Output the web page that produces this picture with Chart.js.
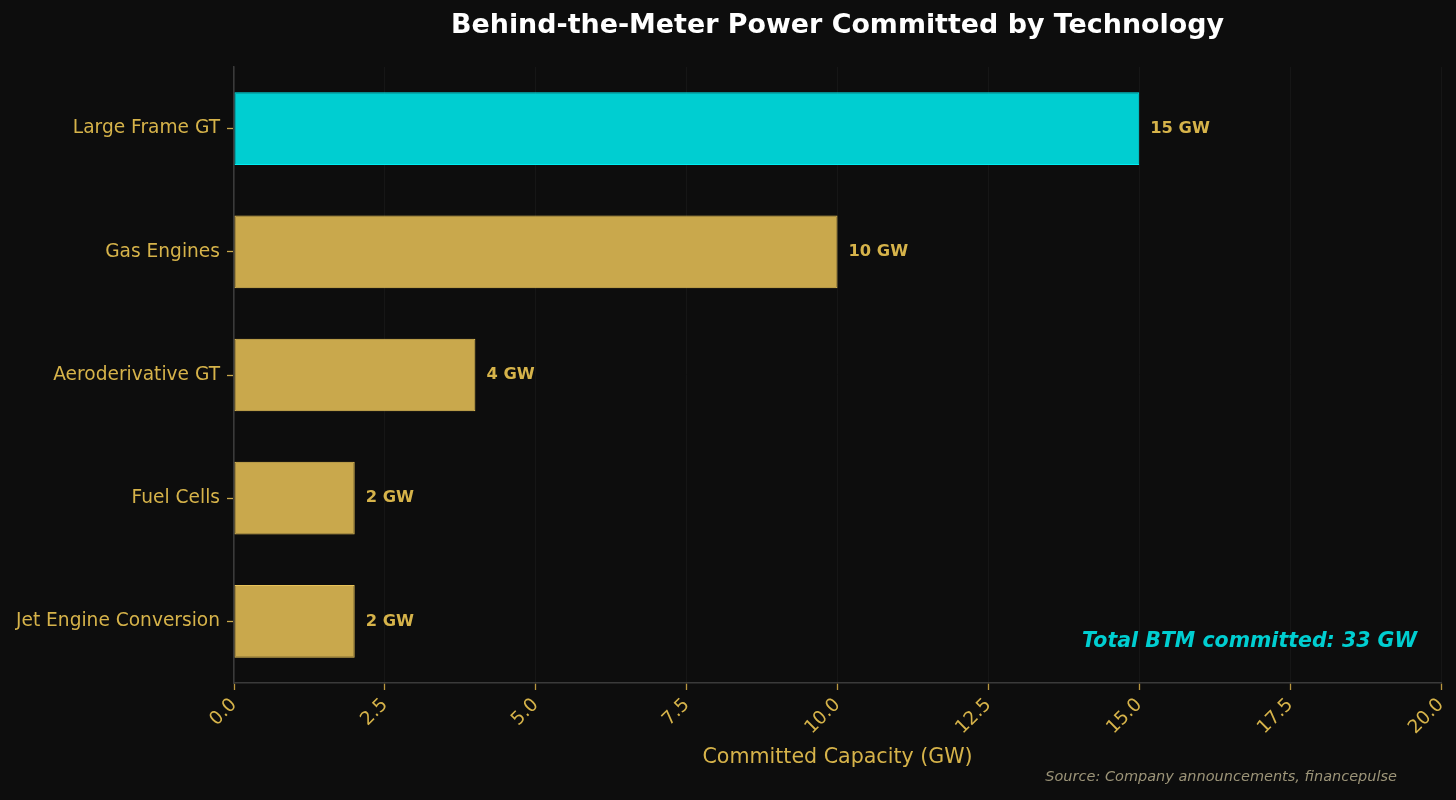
<!DOCTYPE html>
<html>
<head>
<meta charset="utf-8">
<script src="https://cdn.jsdelivr.net/npm/chart.js@4.4.1/dist/chart.umd.min.js"></script>
<style>
  html, body { margin: 0; padding: 0; background: #0d0d0d; }
  #wrap { width: 1456px; height: 800px; }
</style>
</head>
<body>
<div id="wrap"><canvas id="btm-chart" width="1456" height="800"></canvas></div>
<script>
// Behind-the-meter commitments (GW)
const technologies = ['Large Frame GT', 'Gas Engines', 'Aeroderivative GT', 'Fuel Cells', 'Jet Engine Conversion'];
const capacityGW = [15, 10, 4, 2, 2];
const barColors = ['#00ced1', '#c9a84c', '#c9a84c', '#c9a84c', '#c9a84c'];
const barBorders = ['#00eef2', '#e8c35a', '#e8c35a', '#e8c35a', '#e8c35a'];
const totalLabel = 'Total BTM committed: 33 GW';
const sourceLabel = 'Source: Company announcements, financepulse';
const chartTitle = 'Behind-the-Meter Power Committed by Technology';

const GOLD = '#d6b34a';
const FONT = "'DejaVu Sans', sans-serif";

// extra text: title over the plot, value labels, total, source
const overlay = {
  id: 'overlay',
  afterDatasetsDraw(chart) {
    const ctx = chart.ctx;
    const area = chart.chartArea;
    ctx.save();

    ctx.fillStyle = '#ffffff';
    ctx.font = 'bold 26.9px ' + FONT;
    ctx.textAlign = 'center';
    ctx.textBaseline = 'middle';
    ctx.fillText(chartTitle, (area.left + area.right) / 2, 26);

    const meta = chart.getDatasetMeta(0);
    ctx.font = 'bold 16.3px ' + FONT;
    ctx.fillStyle = GOLD;
    ctx.textAlign = 'left';
    meta.data.forEach((bar, i) => {
      ctx.fillText(capacityGW[i] + ' GW', bar.x + 11, bar.y);
    });

    ctx.font = 'italic bold 20.5px ' + FONT;
    ctx.fillStyle = '#00ced1';
    ctx.textAlign = 'right';
    ctx.fillText(totalLabel, area.right - 24, 642);

    ctx.font = 'italic 14.5px ' + FONT;
    ctx.fillStyle = '#9c9478';
    ctx.fillText(sourceLabel, 1397, 777);
    ctx.restore();
  }
};

const bgPlugin = {
  id: 'bg',
  beforeDraw(chart) {
    const ctx = chart.ctx;
    ctx.save();
    ctx.fillStyle = '#0d0d0d';
    ctx.fillRect(0, 0, chart.width, chart.height);
    ctx.restore();
  }
};

const ctx = document.getElementById('btm-chart').getContext('2d');
new Chart(ctx, {
  type: 'bar',
  data: {
    labels: technologies,
    datasets: [{
      data: capacityGW,
      backgroundColor: barColors,
      borderColor: barBorders,
      borderWidth: 1,
      borderSkipped: false,
      barPercentage: 0.59,
      categoryPercentage: 1.0,
    }],
  },
  options: {
    indexAxis: 'y',
    responsive: false,
    devicePixelRatio: 1,
    animation: false,
    layout: { padding: { top: 67, right: 15, left: 0, bottom: 0 } },
    plugins: {
      legend: { display: false },
      tooltip: { enabled: false },
      title: { display: false },
    },
    scales: {
      x: {
        type: 'linear',
        min: 0,
        max: 20,
        ticks: {
          stepSize: 2.5,
          color: GOLD,
          font: { family: FONT, size: 18.6 },
          minRotation: 45,
          maxRotation: 45,
          padding: 4,
          callback: (v) => v.toFixed(1),
        },
        grid: {
          color: '#161616',
          lineWidth: 1,
          tickColor: '#b8963e',
          tickWidth: 1.3,
          tickLength: 7,
        },
        border: { color: '#3a3a3a', width: 1.5 },
        title: {
          display: true,
          text: 'Committed Capacity (GW)',
          color: GOLD,
          font: { family: FONT, size: 20.6 },
          padding: { top: 0, bottom: 30 },
        },
        afterFit: (s) => { s.height = 117; s.paddingLeft = 0; s.paddingRight = 0; },
      },
      y: {
        ticks: {
          color: GOLD,
          font: { family: FONT, size: 18.6 },
          padding: 7,
        },
        grid: {
          offset: false,
          drawOnChartArea: false,
          tickColor: '#c9a84c',
          tickWidth: 1.3,
          tickLength: 7,
        },
        border: { color: '#3a3a3a', width: 1.5 },
        afterFit: (s) => { s.width = 234; },
      },
    },
  },
  plugins: [bgPlugin, overlay],
});
</script>
</body>
</html>
